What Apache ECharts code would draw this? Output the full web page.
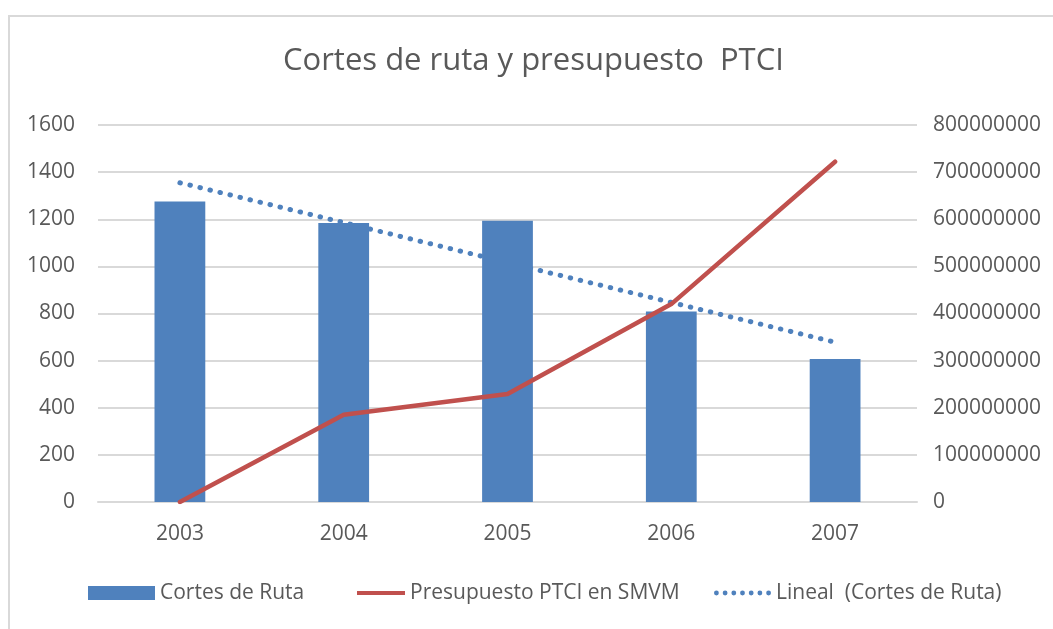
<!DOCTYPE html>
<html>
<head>
<meta charset="utf-8">
<script src="https://cdn.jsdelivr.net/npm/echarts@6/dist/echarts.min.js"></script>
<style>
html,body{margin:0;padding:0;background:#fff;}
#chart{width:1053px;height:629px;}
</style>
</head>
<body>
<div id="chart"></div>
<script>
const years = ['2003', '2004', '2005', '2006', '2007'];
const cortesDeRuta = [1275, 1184, 1194, 808, 607];
const presupuestoPTCI = [0, 185000000, 229000000, 420000000, 722000000];
const linealCortes = [1355, 1186, 1016, 847, 678];
const leftTicks = { min: 0, max: 1600, interval: 200 };
const rightTicks = { min: 0, max: 800000000, interval: 100000000 };

const FONT = 'Open Sans';
const TXT = '#595959';
const BLUE = '#4f81bd';
const RED = '#c0504d';
const GRID = '#d9d9d9';

// dotted legend icon: 7 small circles
let dots = '';
for (let i = 0; i < 7; i++) {
  const cx = i * 9 + 2.5;
  dots += 'M' + (cx - 2.5) + ',2.5 A2.5,2.5 0 1,1 ' + (cx + 2.5) + ',2.5 A2.5,2.5 0 1,1 ' + (cx - 2.5) + ',2.5 Z ';
}

const chart = echarts.init(document.getElementById('chart'), null, { renderer: 'canvas' });
const legendText = { color: TXT, fontSize: 21, fontFamily: FONT, lineHeight: 24 };
const plain = v => String(v);
chart.setOption({
  backgroundColor: '#fff',
  animation: false,
  textStyle: { fontFamily: FONT },
  title: {
    text: 'Cortes de ruta y presupuesto  PTCI',
    left: 283,
    top: 46,
    padding: 0,
    textStyle: { color: TXT, fontSize: 31, fontWeight: 'normal', fontFamily: FONT }
  },
  graphic: [{
    type: 'rect',
    shape: { x: 9, y: 16, width: 1100, height: 700 },
    style: { fill: null, stroke: GRID, lineWidth: 2 },
    silent: true
  }],
  legend: [
    { data: ['Cortes de Ruta'], left: 88, top: 581, padding: 0, itemGap: 0, itemWidth: 67, itemHeight: 14, icon: 'rect', textStyle: legendText },
    { data: ['Presupuesto PTCI en SMVM'], left: 357, top: 581, padding: 0, itemWidth: 48, itemHeight: 4, icon: 'rect', textStyle: legendText },
    { data: [{ name: 'Lineal  (Cortes de Ruta)', icon: 'path://' + dots }], left: 714, top: 581, padding: 0, itemWidth: 57, itemHeight: 5, textStyle: legendText, itemStyle: { color: BLUE } }
  ],
  grid: { left: 98, right: 136, top: 125, bottom: 127, containLabel: false },
  xAxis: {
    type: 'category',
    data: years,
    axisLine: { lineStyle: { color: GRID, width: 2 } },
    axisTick: { show: false },
    axisLabel: { color: TXT, fontSize: 21, fontFamily: FONT, margin: 22 }
  },
  yAxis: [
    {
      type: 'value', min: leftTicks.min, max: leftTicks.max, interval: leftTicks.interval,
      axisLine: { show: false }, axisTick: { show: false },
      splitLine: { lineStyle: { color: GRID, width: 2 } },
      axisLabel: { color: TXT, fontSize: 21, fontFamily: FONT, margin: 23, formatter: plain }
    },
    {
      type: 'value', min: rightTicks.min, max: rightTicks.max, interval: rightTicks.interval,
      axisLine: { show: false }, axisTick: { show: false },
      splitLine: { show: false },
      axisLabel: { color: TXT, fontSize: 21, fontFamily: FONT, margin: 16, formatter: plain }
    }
  ],
  series: [
    {
      name: 'Lineal  (Cortes de Ruta)',
      type: 'line',
      data: linealCortes,
      yAxisIndex: 0,
      z: 1,
      symbol: 'none',
      itemStyle: { color: BLUE },
      lineStyle: { color: BLUE, width: 5, type: [0.5, 9.8], cap: 'round' },
      silent: true
    },
    {
      name: 'Cortes de Ruta',
      type: 'bar',
      data: cortesDeRuta,
      yAxisIndex: 0,
      z: 2,
      barWidth: '31%',
      itemStyle: { color: BLUE }
    },
    {
      name: 'Presupuesto PTCI en SMVM',
      type: 'line',
      data: presupuestoPTCI,
      yAxisIndex: 1,
      z: 3,
      symbol: 'none',
      itemStyle: { color: RED },
      lineStyle: { color: RED, width: 4.5, cap: 'round', join: 'round' }
    }
  ]
});
</script>
</body>
</html>
